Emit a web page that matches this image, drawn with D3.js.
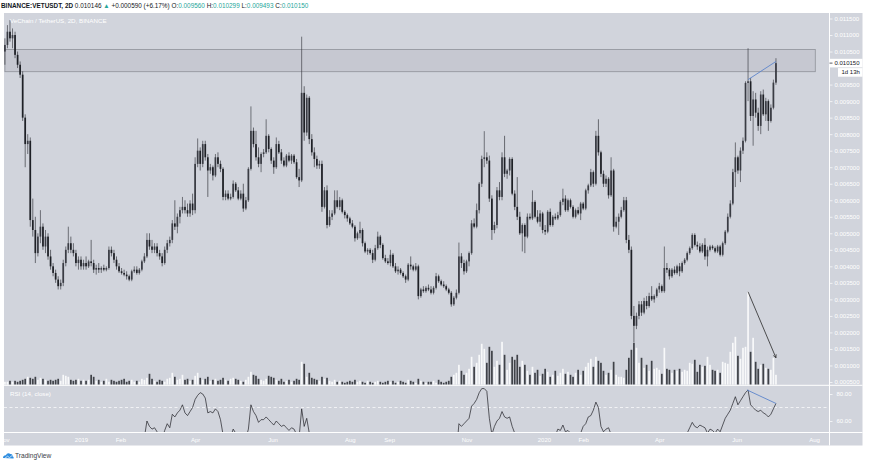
<!DOCTYPE html>
<html><head><meta charset="utf-8">
<script src="https://cdnjs.cloudflare.com/ajax/libs/d3/7.8.5/d3.min.js"></script>
<style>
body{margin:0;background:#fff;}
svg{display:block;font-family:"Liberation Sans",Arial,sans-serif;}
</style>
</head><body>
<svg id="c" width="872" height="463"></svg>
<script>
// ---------- DATA (VET/USDT, Binance, 2-day candles; prices in 0.001 USDT) ----------
const firstBarDate = "2018-11-02";
const barDays = 2;
const opens = [
10.50,10.70,11.10,10.90,11.00,10.40,10.10,9.80,8.50,7.70,
7.80,5.40,5.10,4.40,4.90,5.20,4.60,4.90,4.30,4.00,
3.80,3.60,3.40,3.50,4.10,4.50,4.70,4.50,4.40,4.10,
4.20,4.00,4.10,4.00,4.15,4.10,3.90,3.95,3.90,3.95,
3.90,3.95,4.50,4.40,4.20,4.00,3.85,3.80,3.75,3.70,
3.60,3.85,3.90,3.80,3.90,4.15,4.30,4.80,4.60,4.50,
4.60,4.40,4.30,4.10,4.50,4.70,4.80,5.30,5.20,5.50,
5.70,5.80,5.70,5.60,5.90,5.70,7.10,7.50,7.10,7.70,
7.30,6.90,7.00,6.75,7.30,7.10,6.95,6.10,6.20,6.05,
6.10,6.50,6.30,6.05,6.20,5.75,6.00,6.95,8.10,7.70,
7.30,7.10,7.40,7.45,7.95,7.55,7.20,7.00,7.70,7.45,
7.20,7.05,7.35,7.20,7.35,7.15,6.70,6.60,9.25,8.05,
9.10,7.85,7.45,7.25,7.05,7.10,5.80,6.30,5.25,5.50,
5.60,6.00,5.80,6.00,5.65,5.55,5.45,5.30,5.20,4.85,
5.00,5.10,4.70,4.45,4.50,4.40,4.20,4.55,4.90,4.65,
4.25,4.15,4.10,4.35,4.00,3.85,3.90,3.80,3.70,3.60,
4.05,4.00,3.90,4.00,3.10,3.30,3.25,3.35,3.30,3.20,
3.35,3.70,3.55,3.45,3.40,3.30,3.20,2.85,3.05,3.20,
4.30,4.10,3.85,4.15,4.40,5.30,5.20,5.70,6.50,7.25,
7.30,7.20,6.05,5.10,5.25,6.30,6.10,7.30,6.80,6.90,
7.25,6.20,5.80,5.50,5.00,5.25,4.90,5.50,5.45,5.95,
5.50,5.35,5.60,5.10,5.05,5.65,5.25,5.50,5.45,5.55,
5.95,6.05,5.70,6.00,5.80,5.50,5.70,5.60,5.90,5.75,
6.30,6.45,6.85,6.50,7.95,7.45,6.80,6.50,6.65,6.15,
6.90,5.20,5.35,5.50,5.70,6.00,4.80,4.50,2.50,2.20,
2.50,2.85,2.60,2.95,2.80,3.10,3.00,3.10,3.30,3.40,
3.25,3.95,3.90,3.70,3.90,3.80,4.00,3.85,4.10,4.20,
4.40,4.55,4.95,4.65,4.60,4.45,4.65,4.30,4.50,4.60,
4.55,4.45,4.60,4.35,4.70,5.05,5.50,5.90,6.85,7.30,
6.90,7.50,7.80,9.55,9.60,8.55,9.05,8.65,8.25,9.20,
8.60,9.00,8.40,8.80,9.56];
const highs = [
10.90,11.30,11.45,11.20,11.10,10.50,10.20,9.90,8.60,8.00,
7.90,6.05,5.50,5.00,5.70,5.30,5.10,5.00,4.50,4.10,
3.90,3.70,3.60,4.20,4.60,5.20,4.90,4.70,4.50,4.30,
4.30,4.20,4.30,4.20,4.80,4.20,4.05,4.10,4.00,4.05,
4.00,4.60,4.60,4.50,4.30,4.10,3.95,3.90,3.85,3.75,
3.90,4.00,4.00,3.95,4.20,4.40,5.00,5.00,4.80,4.70,
4.70,4.50,4.40,4.60,4.80,4.90,5.40,6.00,5.60,5.80,
6.10,6.00,5.90,6.00,6.20,7.30,7.87,7.60,7.80,7.80,
7.40,7.10,7.05,7.40,7.45,7.20,7.00,6.30,6.30,6.20,
6.60,6.55,6.40,6.30,6.50,6.10,7.00,8.84,8.20,8.10,
7.60,7.45,7.55,8.45,8.00,7.60,7.30,7.90,7.80,7.55,
7.30,7.40,7.45,7.40,7.40,7.25,6.95,10.95,9.45,9.20,
9.15,8.00,7.60,7.35,7.20,7.20,6.40,6.45,5.70,5.70,
6.30,6.30,6.10,6.05,5.70,5.60,5.50,5.40,5.25,5.05,
5.35,5.15,4.75,4.55,4.55,4.50,4.65,5.05,4.95,4.70,
4.35,4.25,4.50,4.40,4.10,4.00,3.95,3.85,3.75,4.10,
4.30,4.05,4.10,4.05,3.35,3.40,3.40,3.45,3.40,3.40,
3.80,3.75,3.60,3.55,3.45,3.35,3.25,3.10,3.30,4.72,
4.40,4.20,4.20,4.45,5.40,5.45,5.90,6.55,7.35,8.09,
7.45,7.35,6.15,5.35,6.40,6.55,7.45,7.95,6.95,7.30,
7.30,6.30,6.70,5.65,5.30,5.30,5.60,5.60,6.30,6.00,
5.70,5.70,5.65,5.25,5.70,5.75,5.55,5.60,5.65,6.00,
6.35,6.15,6.05,6.05,5.85,5.75,5.80,5.95,5.95,6.35,
6.50,6.95,6.90,8.10,8.45,7.50,6.90,6.75,6.70,7.30,
6.95,5.50,5.60,5.80,6.10,6.10,4.95,4.60,2.80,2.60,
2.95,2.95,3.05,3.10,3.20,3.40,3.15,3.35,3.50,3.45,
4.60,4.10,3.95,3.95,4.00,4.05,4.10,4.15,4.25,4.45,
4.60,5.00,5.00,4.75,4.70,4.70,4.85,4.60,4.65,4.65,
4.60,4.65,4.65,4.75,5.10,5.60,6.00,6.95,7.75,7.35,
7.60,7.90,9.60,10.60,9.70,9.30,9.25,8.80,9.30,9.35,
9.10,9.05,8.90,9.65,10.299];
const lows = [
10.10,10.60,10.80,10.60,10.30,10.00,9.70,8.40,7.00,7.40,
5.20,4.90,4.10,4.30,4.70,4.50,4.40,4.20,3.90,3.70,
3.50,3.30,3.30,3.40,4.00,4.40,4.40,4.30,4.00,3.90,
3.90,3.90,3.90,3.95,4.00,3.80,3.75,3.80,3.80,3.85,
3.85,3.90,4.30,4.10,3.90,3.80,3.75,3.70,3.60,3.55,
3.55,3.80,3.75,3.75,3.85,4.10,4.25,4.50,4.40,4.40,
4.30,4.20,4.00,4.05,4.40,4.60,4.70,5.10,5.00,5.30,
5.60,5.60,5.50,5.50,5.55,5.60,7.00,6.90,7.00,7.20,
6.10,6.80,6.60,6.70,7.00,6.85,6.00,6.00,6.00,6.00,
6.05,6.25,6.00,6.00,5.65,5.70,5.95,6.90,7.60,7.20,
7.00,6.85,7.30,7.40,7.45,7.10,6.80,6.95,7.40,7.10,
7.00,7.00,7.15,7.10,7.10,6.65,6.40,6.55,7.80,7.95,
7.70,7.35,7.00,6.95,6.95,5.65,5.75,5.15,5.20,5.40,
5.55,5.75,5.70,5.60,5.45,5.35,5.25,5.15,4.75,4.80,
4.85,4.60,4.40,4.35,4.35,4.10,4.15,4.50,4.55,4.20,
4.10,4.05,4.00,3.95,3.80,3.75,3.75,3.65,3.50,3.55,
3.90,3.85,3.85,3.00,3.05,3.20,3.20,3.25,3.15,3.15,
3.30,3.50,3.40,3.35,3.25,3.15,2.78,2.80,3.00,3.15,
3.95,3.75,3.80,4.00,4.35,5.15,5.15,5.60,6.40,7.00,
7.10,5.95,4.80,5.00,5.15,6.00,6.00,6.70,6.65,6.75,
6.15,5.70,5.40,4.95,4.45,4.40,4.85,5.40,5.40,5.45,
5.30,5.20,5.00,4.95,5.00,5.20,5.20,5.40,5.40,5.50,
5.85,5.65,5.65,5.75,5.45,5.45,5.55,5.40,5.70,5.70,
6.20,6.40,6.40,6.45,7.35,6.70,6.40,6.40,6.05,6.10,
5.05,5.15,4.95,5.45,5.65,4.70,4.40,2.40,1.70,2.10,
2.40,2.50,2.55,2.70,2.75,2.95,2.90,3.05,3.20,3.20,
3.20,3.80,3.60,3.65,3.75,3.75,3.70,3.80,4.05,4.15,
4.35,4.50,4.60,4.50,4.40,4.40,4.20,4.00,4.45,4.50,
4.40,4.40,4.30,4.30,4.65,5.00,5.45,5.85,6.40,6.80,
6.55,7.40,7.75,9.00,8.40,7.65,8.50,8.10,8.00,8.55,
8.40,8.10,8.35,8.75,9.493];
const closes = [
10.70,11.10,10.90,11.00,10.40,10.10,9.80,8.50,7.70,7.80,
5.40,5.10,4.40,4.90,5.20,4.60,4.90,4.30,4.00,3.80,
3.60,3.40,3.50,4.10,4.50,4.70,4.50,4.40,4.10,4.20,
4.00,4.10,4.00,4.15,4.10,3.90,3.95,3.90,3.95,3.90,
3.95,4.50,4.40,4.20,4.00,3.85,3.80,3.75,3.70,3.60,
3.85,3.90,3.80,3.90,4.15,4.30,4.80,4.60,4.50,4.60,
4.40,4.30,4.10,4.50,4.70,4.80,5.30,5.20,5.50,5.70,
5.80,5.70,5.60,5.90,5.70,7.10,7.50,7.10,7.70,7.30,
6.90,7.00,6.75,7.30,7.10,6.95,6.10,6.20,6.05,6.10,
6.50,6.30,6.05,6.20,5.75,6.00,6.95,8.10,7.70,7.30,
7.10,7.40,7.45,7.95,7.55,7.20,7.00,7.70,7.45,7.20,
7.05,7.35,7.20,7.35,7.15,6.70,6.60,9.25,8.05,9.10,
7.85,7.45,7.25,7.05,7.10,5.80,6.30,5.25,5.50,5.60,
6.00,5.80,6.00,5.65,5.55,5.45,5.30,5.20,4.85,5.00,
5.10,4.70,4.45,4.50,4.40,4.20,4.55,4.90,4.65,4.25,
4.15,4.10,4.35,4.00,3.85,3.90,3.80,3.70,3.60,4.05,
4.00,3.90,4.00,3.10,3.30,3.25,3.35,3.30,3.20,3.35,
3.70,3.55,3.45,3.40,3.30,3.20,2.85,3.05,3.20,4.30,
4.10,3.85,4.15,4.40,5.30,5.20,5.70,6.50,7.25,7.30,
7.20,6.05,5.10,5.25,6.30,6.10,7.30,6.80,6.90,7.25,
6.20,5.80,5.50,5.00,5.25,4.90,5.50,5.45,5.95,5.50,
5.35,5.60,5.10,5.05,5.65,5.25,5.50,5.45,5.55,5.95,
6.05,5.70,6.00,5.80,5.50,5.70,5.60,5.90,5.75,6.30,
6.45,6.85,6.50,7.95,7.45,6.80,6.50,6.65,6.15,6.90,
5.20,5.35,5.50,5.70,6.00,4.80,4.50,2.50,2.20,2.50,
2.85,2.60,2.95,2.80,3.10,3.00,3.10,3.30,3.40,3.25,
3.95,3.90,3.70,3.90,3.80,4.00,3.85,4.10,4.20,4.40,
4.55,4.95,4.65,4.60,4.45,4.65,4.30,4.50,4.60,4.55,
4.45,4.60,4.35,4.70,5.05,5.50,5.90,6.85,7.30,6.90,
7.50,7.80,9.55,9.60,8.55,9.05,8.65,8.25,9.20,8.60,
9.00,8.40,8.80,9.56,10.15];
// relative volume per bar
const volumes = [
3,3,4,3,4,3,4,5,6,8,
7,6,8,5,7,6,5,4,5,4,
5,6,4,10,9,8,5,4,5,6,
4,5,4,5,10,8,4,5,3,4,
6,3,5,4,3,4,5,6,3,4,
5,3,4,3,6,5,7,11,6,4,
3,5,4,3,6,7,12,8,5,6,
10,5,6,4,5,9,12,7,5,6,
8,4,5,6,4,5,7,5,4,6,
7,6,5,4,3,5,8,13,10,9,
6,5,4,6,9,8,7,5,4,6,
3,4,5,3,4,6,5,23,21,8,
12,7,6,5,4,8,6,7,4,3,
5,3,4,3,2,3,4,3,5,3,
4,3,2,4,3,2,3,4,3,2,
3,4,3,4,2,3,4,3,2,5,
4,3,2,6,4,3,2,3,3,4,
2,5,3,2,3,4,8,10,12,20,
14,10,12,16,28,18,22,30,41,36,
22,38,34,18,24,20,43,30,15,22,
28,25,30,18,24,20,14,10,18,12,
15,9,11,16,13,8,10,14,9,12,
16,11,13,10,8,12,15,10,14,18,
22,26,18,28,24,22,14,10,12,15,
23,10,8,8,7,15,27,35,42,37,
22,27,17,20,14,24,16,17,15,11,
37,16,15,12,15,14,16,13,15,14,
22,21,25,13,20,18,19,28,20,15,
14,15,12,23,22,21,33,42,48,29,
26,37,38,93,33,47,23,16,20,21,
17,16,15,27,10];
// RSI(14) per bar
const rsi = [
48,50,49,50,45,42,40,30,25,27,
18,22,20,28,32,28,30,26,22,20,
18,16,20,35,40,42,40,38,36,38,
36,38,40,39,38,36,36,37,36,37,
38,46,44,42,40,38,37,36,35,34,
38,40,39,40,44,48,60,56,54,55,
52,50,47,53,58,55,65,63,66,68,
72,66,64,67,70,76,79,81,80,77,
66,67,66,69,67,61,50,49,47,48,
54,51,48,49,44,47,54,72,67,64,
59,61,61,63,61,59,57,60,58,56,
57,55,53,55,54,50,48,69,56,62,
51,48,46,45,45,38,41,36,38,39,
43,41,43,41,40,39,38,37,34,37,
38,35,33,34,33,32,37,41,39,35,
34,34,38,35,33,34,33,32,31,38,
38,37,39,30,33,33,34,34,33,35,
40,38,37,36,35,34,29,33,36,58,
56,58,60,62,71,73,76,81,84,84,
82,62,50,56,60,62,67,63,62,63,
56,51,48,44,46,44,48,48,51,48,
47,49,45,45,50,47,49,49,54,53,
57,52,53,51,48,50,49,51,56,58,
63,64,68,74,70,56,52,54,55,50,
40,41,43,44,46,37,35,25,24,28,
31,30,33,32,35,34,35,37,38,37,
45,45,43,45,44,46,45,47,49,51,
55,59,56,55,57,56,55,51,54,53,
51,54,52,57,62,65,68,73,78,72,
75,78,81,83,72,70,68,67,68,66,
65,63,65,69,73];
const timeTickDates = ["2018-11-01","2019-01-01","2019-02-01","2019-04-01","2019-06-01","2019-08-01","2019-09-01","2019-11-01","2020-01-01","2020-02-01","2020-04-01","2020-06-01","2020-08-01"];
const timeTickLabels = ["Nov","2019","Feb","Apr","Jun","Aug","Sep","Nov","2020","Feb","Apr","Jun","Aug"];
// 0.010000 is hidden behind the last-price label in the reference
const priceTicks = [0.0005,0.001,0.0015,0.002,0.0025,0.003,0.0035,0.004,0.0045,0.005,0.0055,0.006,0.0065,0.007,0.0075,0.008,0.0085,0.009,0.0095,0.0105,0.011,0.0115];
const rsiTicks = [60, 80];
const zone = {start:"2018-11-02", end:"2020-08-02", top:10.56, bottom:9.89};
const priceTrend = [[293, 9.65],[304, 10.20]];   // [bar index, price]
const rsiTrend = [[292.6, 83],[304, 73]];
const volArrow = [[293, 93],[304, 27]];
const lastPrice = "0.010150", countdown = "1d 13h";
const headerParts = [["BINANCE:VETUSDT, 2D ","#131722"],["0.010146 ","#131722"],["▲ ","#26a69a"],["+0.000590 (+6.17%) ","#131722"],
  ["O:","#131722"],["0.009560 ","#26a69a"],["H:","#131722"],["0.010299 ","#26a69a"],["L:","#131722"],["0.009493 ","#26a69a"],["C:","#131722"],["0.010150","#26a69a"]];

// ---------- LAYOUT ----------
const L=4, R=829.5, T=13, MB=384.8, RT=385.8, RB=432.5, AXR=862.5, TB=445.5;
const svg = d3.select("#c");
const BG="#d1d4dc";
const DAY=864e5;
const t0 = new Date(firstBarDate+"T00:00:00Z").getTime();
const dates = opens.map((_,i)=>new Date(t0 + i*barDays*DAY));
const bars = dates.map((d,i)=>({d,i,o:opens[i],h:highs[i],l:lows[i],c:closes[i],v:volumes[i],r:rsi[i]}));

const x = d3.scaleTime().domain([new Date("2019-01-01T00:00:00Z"), new Date("2020-08-01T00:00:00Z")]).range([81, 814]);
const xi = i => x(new Date(t0 + i*barDays*DAY));
const y = d3.scaleLinear().domain([0.0005, 0.0115]).range([382, 18.5]);
const P = v => y(v/1000);
const yv = d3.scaleLinear().domain([0, d3.max(volumes)]).range([MB, MB-93]);
const yr = d3.scaleLinear().domain([60, 80]).range([421, 394]);

const defs = svg.append("defs");
defs.append("clipPath").attr("id","cm").append("rect").attr("x",L).attr("y",T).attr("width",R-L).attr("height",MB-T);
defs.append("clipPath").attr("id","cr").append("rect").attr("x",L).attr("y",RT).attr("width",R-L).attr("height",RB-RT);
defs.append("clipPath").attr("id","ct").append("rect").attr("x",L).attr("y",RB).attr("width",R-L).attr("height",TB-RB);
defs.append("marker").attr("id","ah").attr("viewBox","0 0 10 10").attr("refX",9).attr("refY",5)
  .attr("markerWidth",5).attr("markerHeight",5).attr("orient","auto")
  .append("path").attr("d","M1,1 L9,5 L1,9").attr("fill","none").attr("stroke","#2a2a2a").attr("stroke-width",1.6);

// background panel
svg.append("rect").attr("x",L).attr("y",T).attr("width",AXR-L).attr("height",TB-T).attr("fill",BG);

// header
const ht = svg.append("text").attr("x",1).attr("y",8.2).attr("font-size",6.4);
headerParts.forEach(([s,c],k)=>ht.append("tspan").attr("fill",c).attr("font-weight",k===0?"bold":"normal").text(s));

// zone rectangle
const gm = svg.append("g").attr("clip-path","url(#cm)");
gm.append("rect")
  .attr("x", x(new Date(zone.start+"T00:00:00Z")))
  .attr("y", P(zone.top))
  .attr("width", x(new Date(zone.end+"T00:00:00Z")) - x(new Date(zone.start+"T00:00:00Z")))
  .attr("height", P(zone.bottom)-P(zone.top))
  .attr("fill","rgba(120,124,140,0.13)").attr("stroke","#8e9199").attr("stroke-width",0.8);

// volume bars
const bw = 1.7;
gm.append("g").selectAll("rect").data(bars).join("rect")
  .attr("x",d=>x(d.d)-bw/2).attr("width",bw)
  .attr("y",d=>yv(d.v)).attr("height",d=>MB-yv(d.v))
  .attr("fill",d=>d.c>=d.o?"rgba(255,255,255,0.85)":"rgba(38,40,46,0.85)");

// candles
const DN="#1e2026", UPW="#2a2c33";
gm.append("g").selectAll("line").data(bars).join("line")
  .attr("x1",d=>x(d.d)).attr("x2",d=>x(d.d))
  .attr("y1",d=>P(d.h)).attr("y2",d=>P(d.l))
  .attr("stroke",d=>d.c>=d.o?UPW:DN).attr("stroke-width",0.6);
gm.append("g").selectAll("rect").data(bars).join("rect")
  .attr("x",d=>x(d.d)-bw/2).attr("width",bw)
  .attr("y",d=>P(Math.max(d.o,d.c)))
  .attr("height",d=>Math.max(0.8, Math.abs(P(d.o)-P(d.c))))
  .attr("fill",d=>d.c>=d.o?"#3a3c44":DN);

// price trend line
gm.append("line").attr("x1",xi(priceTrend[0][0])).attr("y1",P(priceTrend[0][1]))
  .attr("x2",xi(priceTrend[1][0])).attr("y2",P(priceTrend[1][1]))
  .attr("stroke","#5c84cc").attr("stroke-width",0.9);
// volume arrow
gm.append("line").attr("x1",xi(volArrow[0][0])).attr("y1",yv(volArrow[0][1]))
  .attr("x2",xi(volArrow[1][0])).attr("y2",yv(volArrow[1][1]))
  .attr("stroke","#2a2a2a").attr("stroke-width",0.8).attr("marker-end","url(#ah)");

// pane labels
svg.append("text").attr("x",10).attr("y",23).attr("font-size",6.2).attr("fill","#ffffff").text("VeChain / TetherUS, 2D, BINANCE");

// RSI pane
const gr = svg.append("g").attr("clip-path","url(#cr)");
gr.append("line").attr("x1",L).attr("x2",R).attr("y1",yr(70)).attr("y2",yr(70))
  .attr("stroke","#ffffff").attr("stroke-width",0.7).attr("stroke-dasharray","3,2.5");
gr.append("path").datum(bars)
  .attr("d", d3.line().x(d=>x(d.d)).y(d=>yr(d.r)))
  .attr("fill","none").attr("stroke","#1e1e24").attr("stroke-width",0.7);
gr.append("line").attr("x1",xi(rsiTrend[0][0])).attr("y1",yr(rsiTrend[0][1]))
  .attr("x2",xi(rsiTrend[1][0])).attr("y2",yr(rsiTrend[1][1]))
  .attr("stroke","#5c84cc").attr("stroke-width",0.9);
svg.append("text").attr("x",10).attr("y",395.5).attr("font-size",6.2).attr("fill","#ffffff").text("RSI (14, close)");

// separators
svg.append("line").attr("x1",L).attr("x2",AXR).attr("y1",385.3).attr("y2",385.3).attr("stroke","#fff").attr("stroke-width",1);
svg.append("line").attr("x1",L).attr("x2",AXR).attr("y1",RB).attr("y2",RB).attr("stroke","#fff").attr("stroke-width",1);
svg.append("line").attr("x1",R).attr("x2",R).attr("y1",T).attr("y2",TB).attr("stroke","#fff").attr("stroke-width",1);

// price axis
const pa = svg.append("g").attr("transform",`translate(${R},0)`)
  .call(d3.axisRight(y).tickValues(priceTicks).tickFormat(d3.format(".6f")).tickSize(3).tickPadding(2));
pa.select(".domain").remove();
pa.selectAll("line").attr("stroke","#fff").attr("stroke-width",0.7);
pa.selectAll("text").attr("fill","#fff").attr("font-size",6).attr("font-family","Liberation Sans, Arial, sans-serif");

// RSI axis
const ra = svg.append("g").attr("transform",`translate(${R},0)`)
  .call(d3.axisRight(yr).tickValues(rsiTicks).tickFormat(d3.format(".2f")).tickSize(3).tickPadding(4));
ra.select(".domain").remove();
ra.selectAll("line").attr("stroke","#fff").attr("stroke-width",0.7);
ra.selectAll("text").attr("fill","#fff").attr("font-size",6).attr("font-family","Liberation Sans, Arial, sans-serif");

// current price label + countdown
const ly = P(10.15);
svg.append("rect").attr("x",R+0.5).attr("y",ly-4.3).attr("width",AXR-R-0.5).attr("height",8.6).attr("fill","#ffffff");
svg.append("line").attr("x1",R).attr("x2",R+3).attr("y1",ly).attr("y2",ly).attr("stroke","#131722").attr("stroke-width",0.7);
svg.append("text").attr("x",R+5).attr("y",ly+2.2).attr("font-size",6).attr("fill","#131722").text(lastPrice);
svg.append("rect").attr("x",R+8.5).attr("y",ly+5).attr("width",AXR-R-8.5).attr("height",8.6).attr("fill","#ffffff");
svg.append("text").attr("x",R+12).attr("y",ly+11.3).attr("font-size",6).attr("fill","#131722").text(countdown);

// time axis (clip wrapper in page coordinates)
const tw = svg.append("g").attr("clip-path","url(#ct)");
const ta = tw.append("g").attr("transform",`translate(0,${RB})`)
  .call(d3.axisBottom(x).tickValues(timeTickDates.map(s=>new Date(s+"T00:00:00Z")))
    .tickFormat((d,k)=>timeTickLabels[k]).tickSize(0).tickPadding(5));
ta.select(".domain").remove();
ta.selectAll("text").attr("fill","#fff").attr("font-size",6).attr("font-family","Liberation Sans, Arial, sans-serif");

// TradingView logo
const lg = svg.append("g").attr("transform","translate(3,451)");
lg.append("path").attr("d","M0,7 C0,5 1.5,4 3,4.3 C3.5,2 6,1.5 7.3,3 C8.8,2.6 10,4 9.6,5.4 C10.8,5.6 11,7 10.3,7.6 Z").attr("fill","#2e8de0");
lg.append("path").attr("d","M1.5,7.6 L4.5,5.2 L6.5,6.6 L9.5,4.2").attr("fill","none").attr("stroke","#ffffff").attr("stroke-width",0.7);
svg.append("text").attr("x",15).attr("y",458.3).attr("font-size",6.6).attr("fill","#3a3e48").text("TradingView");
</script>
</body></html>
